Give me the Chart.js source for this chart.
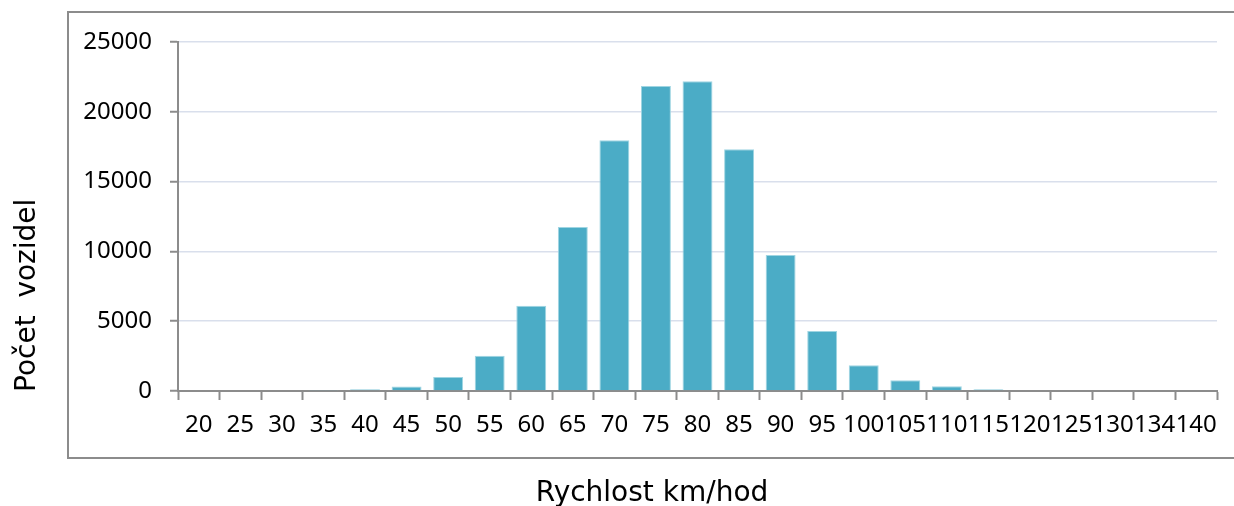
<!DOCTYPE html>
<html>
<head>
<meta charset="utf-8">
<script src="https://cdn.jsdelivr.net/npm/chart.js@4"></script>
<style>
  html, body { margin: 0; padding: 0; background: #fff; }
  #wrap { width: 1234px; height: 506px; position: relative; }
</style>
</head>
<body>
<div id="wrap"><canvas id="speedChart" width="1234" height="506"></canvas></div>
<script>
// rychlosti (km/hod) a pocty vozidel
const speeds = ["20","25","30","35","40","45","50","55","60","65","70","75","80","85","90","95","100","105","110","115","120","125","130","134","140"];
const vehicleCounts = [0, 0, 0, 30, 120, 320, 1000, 2520, 6110, 11750, 17960, 21850, 22180, 17310, 9740, 4290, 1850, 770, 340, 120, 60, 0, 0, 0, 0];
const yTicks = [0, 5000, 10000, 15000, 20000, 25000];

const xTitle = "Rychlost km/hod";
const yTitle = "Počet  vozidel";

// ramecek a popisky os kreslime rucne
const framePlugin = {
  id: "frame",
  afterDraw(chart) {
    const ctx = chart.ctx;
    ctx.save();
    ctx.strokeStyle = "#8c8c8c";
    ctx.lineWidth = 2;
    ctx.strokeRect(68, 12, 1200, 446);

    ctx.fillStyle = "#000";
    ctx.font = "28px 'DejaVu Sans'";
    ctx.textAlign = "center";
    ctx.textBaseline = "alphabetic";
    ctx.fillText(xTitle, 652, 501);

    ctx.translate(35, 392);
    ctx.rotate(-Math.PI / 2);
    ctx.textAlign = "left";
    ctx.fillText(yTitle, 0, 0);
    ctx.restore();
  }
};

const chart = new Chart(document.getElementById("speedChart"), {
  type: "bar",
  data: {
    labels: speeds,
    datasets: [{
      data: vehicleCounts,
      backgroundColor: "#4bacc6",
      borderColor: "#9fd5e2",
      borderWidth: 1,
      categoryPercentage: 1,
      barPercentage: 0.72
    }]
  },
  options: {
    responsive: false,
    animation: false,
    layout: { padding: { left: 0, top: 42, right: 17, bottom: 0 } },
    plugins: { legend: { display: false }, tooltip: { enabled: false } },
    scales: {
      x: {
        grid: { drawOnChartArea: false, drawTicks: true, tickLength: 9, tickColor: "#8c8c8c", tickWidth: 2, offset: true },
        border: { color: "#8c8c8c", width: 2 },
        ticks: {
          autoSkip: false, maxRotation: 0, minRotation: 0, padding: 11,
          color: "#000", font: { family: "'Noto Sans'", size: 24 }
        },
        afterFit(scale) { scale.height = 506 - 391; }
      },
      y: {
        min: 0, max: 25000,
        afterBuildTicks(scale) { scale.ticks = yTicks.map(v => ({ value: v })); },
        grid: { color: "#d9dfec", lineWidth: 1.5, tickLength: 8, tickColor: "#8c8c8c", tickWidth: 2 },
        border: { color: "#8c8c8c", width: 2 },
        ticks: {
          padding: 18,
          color: "#000", font: { family: "'Noto Sans'", size: 24 },
          callback: v => String(v)
        },
        afterFit(scale) { scale.width = 178; }
      }
    }
  },
  plugins: [framePlugin]
});
</script>
</body>
</html>
